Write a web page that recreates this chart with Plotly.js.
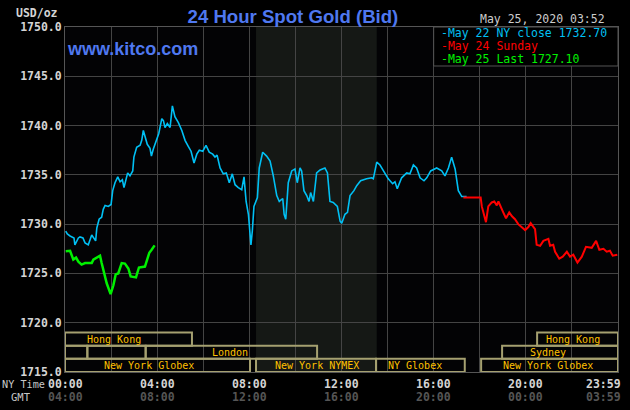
<!DOCTYPE html>
<html><head><meta charset="utf-8">
<script src="https://cdn.plot.ly/plotly-3.0.1.min.js"></script>
<style>html,body{margin:0;padding:0;background:#000;}#chart{width:630px;height:410px;}</style>
</head><body><div id="chart"></div>
<script>
// May 22 (NY close) - hours since 00:00 NY time, price USD/oz
const cyanHours = [
  0.03,0.10,0.22,0.39,0.43,0.58,0.65,0.78,0.87,1.01,
  1.16,1.23,1.33,1.38,1.48,1.59,1.66,1.74,1.88,2.00,
  2.07,2.17,2.29,2.39,2.49,2.56,2.63,2.72,2.82,2.94,
  2.99,3.11,3.26,3.33,3.40,3.47,3.57,3.69,3.75,3.83,
  3.95,4.07,4.20,4.27,4.34,4.44,4.56,4.66,4.77,4.92,
  5.07,5.21,5.35,5.47,5.60,5.72,5.83,5.98,6.12,6.26,
  6.41,6.51,6.60,6.73,6.87,7.00,7.13,7.26,7.38,7.52,
  7.67,7.77,7.86,7.96,8.07,8.13,8.20,8.35,8.43,8.58,
  8.75,8.90,9.04,9.19,9.30,9.45,9.51,9.58,9.69,9.84,
  9.98,10.08,10.20,10.27,10.37,10.49,10.59,10.66,10.78,10.92,
  11.07,11.28,11.39,11.50,11.64,11.82,11.94,12.01,12.15,12.26,
  12.37,12.54,12.66,12.83,13.09,13.31,13.38,13.53,13.67,13.82,
  14.03,14.22,14.32,14.42,14.61,14.83,14.97,15.12,15.26,15.41,
  15.58,15.70,15.87,16.13,16.35,16.49,16.64,16.78,16.93,17.07,
  17.22,17.43
];
const cyanPrices = [
  1729.3,1729.0,1728.8,1728.6,1727.9,1728.6,1728.7,1728.6,1728.1,1727.9,
  1728.9,1728.6,1728.3,1729.6,1730.5,1730.7,1731.5,1731.9,1731.8,1732.0,
  1733.4,1734.2,1734.8,1734.3,1734.5,1733.7,1734.4,1735.2,1734.9,1735.4,
  1736.8,1737.8,1738.0,1738.5,1739.5,1739.0,1738.1,1737.7,1736.9,1737.6,
  1738.5,1739.2,1740.7,1740.5,1739.8,1740.2,1739.8,1742.0,1740.9,1740.3,
  1739.5,1738.5,1737.9,1737.4,1736.2,1737.1,1737.5,1737.4,1738.0,1737.3,
  1737.1,1736.8,1737.0,1735.7,1735.1,1735.2,1734.2,1735.1,1734.0,1733.7,
  1733.5,1734.8,1732.3,1731.0,1727.9,1729.3,1731.8,1732.7,1735.7,1737.3,
  1736.9,1736.4,1734.9,1732.9,1732.3,1732.6,1731.0,1730.5,1734.2,1735.4,
  1735.6,1734.2,1735.7,1735.4,1733.4,1732.9,1732.3,1733.2,1732.3,1735.2,
  1735.5,1735.7,1735.2,1732.3,1732.2,1731.8,1730.3,1730.1,1731.0,1731.2,
  1732.9,1733.4,1733.9,1734.4,1734.6,1734.7,1734.6,1736.3,1736.0,1735.4,
  1734.6,1734.1,1734.3,1733.6,1734.7,1735.2,1735.1,1736.0,1735.7,1734.7,
  1734.4,1734.7,1735.4,1735.7,1735.4,1734.9,1735.7,1736.8,1735.6,1733.4,
  1732.8,1732.8
];
// May 24 (Sunday)
const redHours = [
  17.29,18.04,18.09,18.19,18.27,18.37,18.52,18.63,18.74,18.81,
  18.92,19.02,19.14,19.28,19.40,19.53,19.67,19.82,19.97,20.11,
  20.21,20.40,20.47,20.62,20.76,20.98,21.05,21.19,21.27,21.45,
  21.60,21.78,21.92,22.06,22.24,22.43,22.61,22.86,23.05,23.19,
  23.37,23.51,23.65,23.77,23.97
];
const redPrices = [
  1732.7,1732.7,1731.8,1730.8,1730.2,1731.8,1732.2,1732.3,1731.9,1732.3,
  1731.8,1731.2,1730.6,1731.2,1730.8,1730.5,1730.0,1729.7,1729.4,1729.7,
  1730.1,1729.5,1727.9,1727.8,1728.3,1728.5,1727.8,1727.9,1727.2,1726.5,
  1726.7,1727.2,1726.7,1726.9,1726.1,1726.7,1727.7,1727.6,1728.3,1727.4,
  1727.5,1727.2,1727.3,1726.8,1726.9
];
// May 25 (Last)
const greenHours = [
  0.03,0.22,0.36,0.48,0.58,0.72,0.87,1.16,1.23,1.45,
  1.52,1.59,1.69,1.81,1.98,2.10,2.20,2.31,2.46,2.60,
  2.75,2.85,3.08,3.21,3.47,3.57,3.66,3.76,3.89
];
const greenPrices = [
  1727.25,1727.3,1726.4,1726.6,1726.2,1725.9,1726.05,1726.05,1726.4,1726.7,
  1726.8,1726.05,1725.0,1724.0,1722.9,1723.8,1724.9,1725.0,1726.05,1726.0,
  1725.5,1724.7,1724.6,1725.6,1725.7,1726.4,1727.1,1727.4,1727.85
];

const legendLabels = ['-May 22 NY close 1732.70', '-May 24 Sunday', '-May 25 Last 1727.10'];
const nyTimeLabels = ['00:00','04:00','08:00','12:00','16:00','20:00','23:59'];
const gmtLabels = ['04:00','08:00','12:00','16:00','20:00','00:00','03:59'];
const labelHours = [0,4,8,12,16,20,24];

// trading sessions: name, start hour, end hour, row (0 top), label hour
const sessionNames = ['Hong Kong','Hong Kong','','','London','Sydney','New York Globex','New York NYMEX','NY Globex','New York Globex'];
const sessionStart = [0, 20.49, 0, 0.97, 3.5, 18.97, 0, 8.29, 13.5, 18.06];
const sessionEnd   = [5.51, 24, 0.97, 3.5, 10.94, 24, 8.03, 13.5, 17.35, 24];
const sessionRow   = [0, 0, 1, 1, 1, 1, 2, 2, 2, 2];
const sessionLabelHour = [2.13, 22.05, null, null, 7.17, 20.96, 3.65, 10.92, 15.2, 20.98];
const rowEdges = [1719.0, 1717.67, 1716.35, 1715.0];
const nymexShade = [8.29, 13.53];

const CYAN = '#00c0f4', RED = '#ff0000', GREEN = '#00f000';
const MONO = 'DejaVu Sans Mono, Liberation Mono, monospace';
const SESS = '#a5a070', SESS_TXT = '#ffc000';

const traces = [
  {x: cyanHours, y: cyanPrices, mode: 'lines', line: {color: CYAN, width: 1.6}, hoverinfo: 'skip'},
  {x: redHours, y: redPrices, mode: 'lines', line: {color: RED, width: 2}, hoverinfo: 'skip'},
  {x: greenHours, y: greenPrices, mode: 'lines', line: {color: GREEN, width: 2.5}, hoverinfo: 'skip'}
];

const shapes = [
  {type: 'rect', xref: 'x', yref: 'paper', x0: nymexShade[0], x1: nymexShade[1], y0: 0, y1: 1,
   fillcolor: '#151815', line: {width: 0}, layer: 'below'},
  {type: 'rect', xref: 'x', yref: 'paper', x0: 16, x1: 24, y0: 0.887, y1: 1,
   fillcolor: '#000000', line: {color: '#555555', width: 1}, layer: 'above'}
];
const annotations = [];
for (let i = 0; i < sessionNames.length; i++) {
  const r = sessionRow[i];
  shapes.push({type: 'rect', xref: 'x', yref: 'y', x0: sessionStart[i], x1: sessionEnd[i],
    y0: rowEdges[r + 1], y1: rowEdges[r], line: {color: SESS, width: 2}, fillcolor: 'rgba(0,0,0,0)', layer: 'above'});
  if (sessionNames[i]) {
    annotations.push({xref: 'x', yref: 'y', x: sessionLabelHour[i], y: (rowEdges[r] + rowEdges[r + 1]) / 2,
      yanchor: 'middle', xanchor: 'center',
      text: sessionNames[i], showarrow: false, font: {family: MONO, size: 10, color: SESS_TXT}});
  }
}
for (let i = 0; i < nyTimeLabels.length; i++) {
  const last = i === nyTimeLabels.length - 1;
  annotations.push({xref: 'x', yref: 'paper', x: labelHours[i], y: -0.035, yanchor: 'middle', text: nyTimeLabels[i],
    showarrow: false, xanchor: last ? 'right' : 'center', xshift: last ? 5 : 0,
    font: {family: MONO, size: 11.5, color: '#d4d4d4', weight: 'bold'}});
  annotations.push({xref: 'x', yref: 'paper', x: labelHours[i], y: -0.073, yanchor: 'middle', text: gmtLabels[i],
    showarrow: false, xanchor: last ? 'right' : 'center', xshift: last ? 5 : 0,
    font: {family: MONO, size: 11.5, color: '#555555', weight: 'bold'}});
}
annotations.push({xref: 'paper', yref: 'paper', x: -0.117, y: -0.035, xanchor: 'left', yanchor: 'middle', text: 'NY Time',
  showarrow: false, font: {family: MONO, size: 10.2, color: '#c8c8c8'}});
annotations.push({xref: 'paper', yref: 'paper', x: -0.101, y: -0.073, xanchor: 'left', yanchor: 'middle', text: 'GMT',
  showarrow: false, font: {family: MONO, size: 10.5, color: '#c8c8c8'}});
annotations.push({xref: 'paper', yref: 'paper', x: -0.009, y: 1.0406, xanchor: 'right', yanchor: 'middle', text: 'USD/oz',
  showarrow: false, font: {family: MONO, size: 11.5, color: '#d4d4d4', weight: 'bold'}});
annotations.push({xref: 'paper', yref: 'paper', x: 0.98, y: 1.023, xanchor: 'right', yanchor: 'middle', text: 'May 25, 2020 03:52',
  showarrow: false, font: {family: MONO, size: 11.5, color: '#cccccc'}});
annotations.push({xref: 'paper', yref: 'paper', x: 0, y: 0.936, xanchor: 'left', yanchor: 'middle', text: 'www.kitco.com',
  showarrow: false, font: {family: 'Liberation Sans, Arial, sans-serif', size: 18, color: '#4f78f0', weight: 'bold'}});
const legendColors = [CYAN, RED, GREEN];
const legendY = [0.9826, 0.945, 0.907];
for (let i = 0; i < legendLabels.length; i++) {
  annotations.push({xref: 'paper', yref: 'paper', x: 0.677, y: legendY[i], xanchor: 'left', yanchor: 'middle', text: legendLabels[i],
    showarrow: false, font: {family: MONO, size: 11.5, color: legendColors[i]}});
}

const layout = {
  width: 630, height: 410,
  margin: {l: 65, r: 12, t: 27, b: 38},
  paper_bgcolor: '#000000', plot_bgcolor: '#030305',
  showlegend: false,
  title: {text: '24 Hour Spot Gold (Bid)', x: 0.465, xanchor: 'center', y: 0.961, yanchor: 'middle',
    font: {family: 'Liberation Sans, Arial, sans-serif', size: 18.6, color: '#4f78f0', weight: 'bold'}},
  xaxis: {range: [0, 24], dtick: 2, tick0: 0, showticklabels: false, ticks: '', showgrid: true,
    gridcolor: '#444444', gridwidth: 1, zeroline: false, showline: true, mirror: true, linecolor: '#555555', linewidth: 1},
  yaxis: {range: [1715, 1750], dtick: 5, tick0: 1715, tickformat: '.1f', ticks: '', showgrid: true,
    gridcolor: '#444444', gridwidth: 1, zeroline: false, showline: true, mirror: true, linecolor: '#555555', linewidth: 1,
    tickfont: {family: MONO, size: 11.5, color: '#d4d4d4', weight: 'bold'}},
  shapes: shapes,
  annotations: annotations
};
Plotly.newPlot('chart', traces, layout, {displayModeBar: false, staticPlot: true});
</script></body></html>
